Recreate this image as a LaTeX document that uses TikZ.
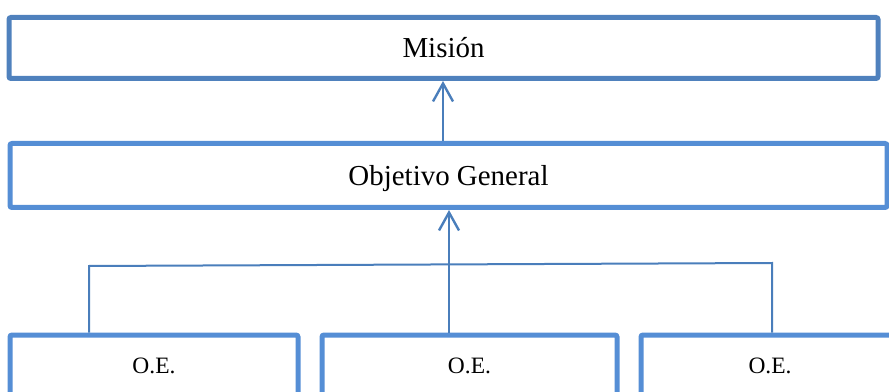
\documentclass[tikz,border=0pt]{standalone}
\usepackage{fontspec}
\setmainfont{Liberation Serif}
\usepackage{tikz}
\usetikzlibrary{arrows.meta}

\definecolor{darkframe}{HTML}{4F81BD}
\definecolor{frame}{HTML}{558ED5}
\definecolor{link}{HTML}{4A7EBB}

\begin{document}
\begin{tikzpicture}[x=0.75pt,y=-0.75pt,
		>={Straight Barb[length=13.5pt,width=15pt]},
		box/.style={shape=rectangle,draw=frame,line width=3.75pt,rounded corners=1.5pt,inner sep=0pt,
			text height=14.3pt,text depth=0pt,font=\fontsize{21.7}{24}\selectfont},
		oebox/.style={box,minimum height=62*0.75pt,text height=11.6pt,font=\fontsize{17.6}{20}\selectfont},
		conn/.style={draw=link,line width=1.5pt}]
	\useasboundingbox (0,0) rectangle (889,392);
	\clip (0,0) rectangle (889,392);
	\node (mision) [box,draw=darkframe,minimum width=869*0.75pt,minimum height=61*0.75pt] at (443.5,48) {Misión};
	\node (general) [box,minimum width=877*0.75pt,minimum height=64*0.75pt] at (448.5,175.5) {Objetivo General};
	\node (oe1) [oebox,minimum width=288*0.75pt] at (154,366) {O.E.};
	\node (oe2) [oebox,minimum width=295*0.75pt] at (469.5,366) {O.E.};
	\node (oe3) [oebox,minimum width=258*0.75pt] at (770,366) {O.E.};

	% ramas
	\coordinate (left) at (89,266);
	\coordinate (right) at (772,263);
	\path[conn] (oe1.north -| left) -- (left) -- (right) -- (oe3.north -| right);
	\path[conn,line width=1.8pt,->] (oe2.north -| 449,0) -- (general.south -| 449,0);
	\path[conn,line width=1.8pt,->] (general.north -| 443,0) -- (mision.south -| 443,0);
\end{tikzpicture}
\end{document}
